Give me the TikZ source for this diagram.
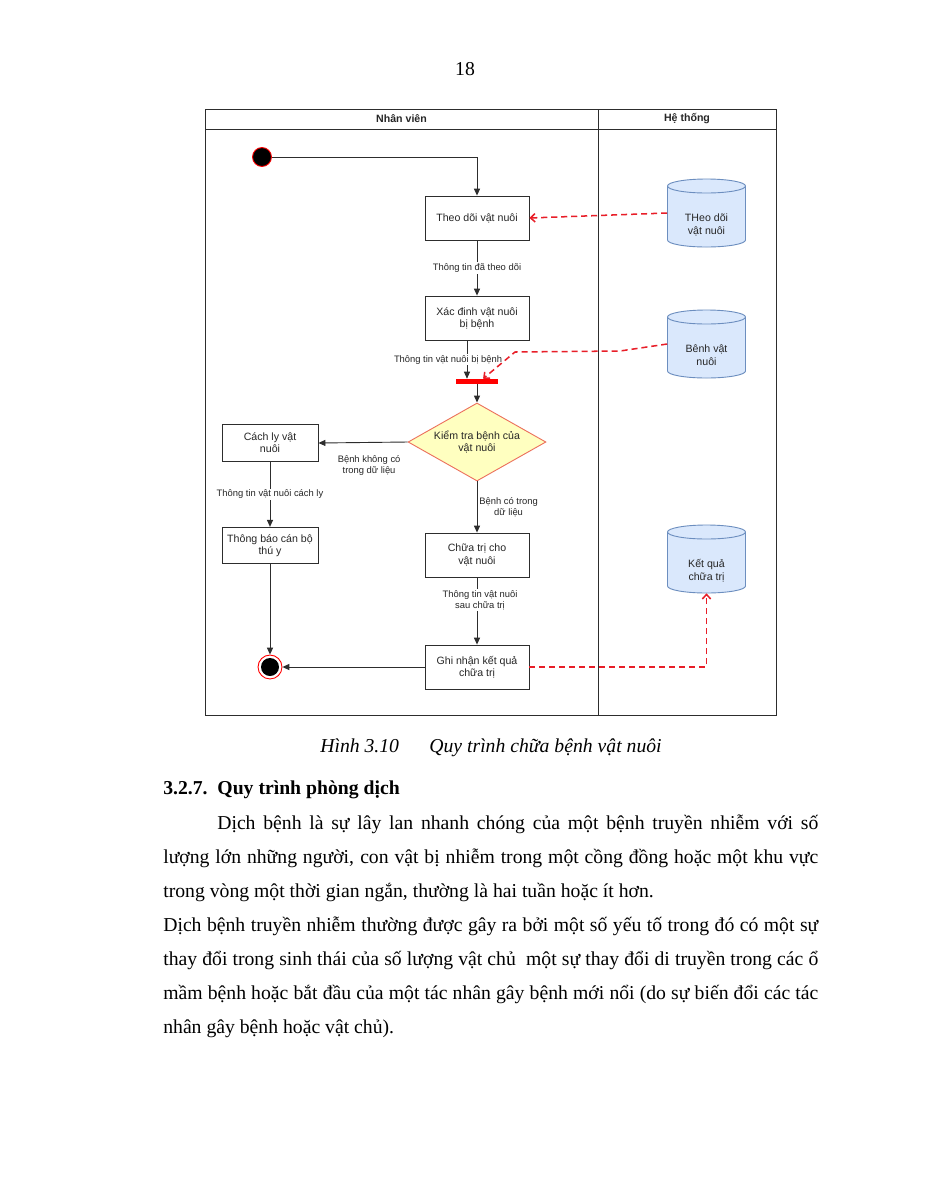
\documentclass[tikz,border=0pt]{standalone}
\usepackage{fontspec}
\setmainfont{Liberation Serif}
\newfontfamily\diagfont{Liberation Sans}
\usetikzlibrary{shapes.geometric,arrows.meta}

\definecolor{dbfill}{RGB}{218,232,252}
\definecolor{dbline}{RGB}{108,142,191}
\definecolor{decfill}{RGB}{255,255,192}
\definecolor{decline}{RGB}{236,112,92}
\definecolor{flowred}{RGB}{232,30,40}
\definecolor{laneline}{RGB}{45,45,45}

\tikzset{
  actbox/.style={draw=laneline,line width=0.6pt,fill=white,minimum width=68.6pt,minimum height=29pt,inner sep=0.75pt,align=center,font=\diagfont\fontsize{7pt}{8pt}\selectfont,text=black!85},
  smallbox/.style={actbox,minimum width=63.4pt,minimum height=24pt},
  dbcyl/.style={minimum width=51.5pt,minimum height=44.9pt,inner sep=0pt},
  dbtext/.style={inner sep=0.75pt,yshift=-7.6pt,align=center,font=\diagfont\fontsize{7pt}{8.5pt}\selectfont,text=black!85},
  lbl/.style={inner sep=0.75pt,fill=white,align=center,font=\diagfont\fontsize{6.2pt}{7.2pt}\selectfont,text=black!85},
  flow/.style={draw=laneline,line width=0.6pt,-{Triangle[length=4.6pt,width=4pt]}},
  dataflow/.style={draw=flowred,line width=1pt,dash pattern=on 4pt off 2.6pt,-{Straight Barb[length=3pt,width=5.5pt]}},
  bodyline/.style={anchor=base west,inner sep=0pt,font=\fontsize{13pt}{15pt}\selectfont}
}

\begin{document}
\begin{tikzpicture}[x=0.66pt,y=0.66pt,yscale=-1,xscale=1]
%set page: 927 x 1200, origin top left
\fill[white] (0,0) rectangle (927,1200);
\path[use as bounding box] (0,0) rectangle (927,1200);

% Text Node
\node [anchor=base,inner sep=0pt,font=\fontsize{13pt}{15pt}\selectfont] (pagenum) at (465,75) {18};

%Swimlanes
\draw [laneline,line width=0.6pt] (205,109) rectangle (776,715);
\draw [laneline,line width=0.6pt] (205,129) -- (776,129);
\draw [laneline,line width=0.6pt] (598,109) -- (598,715);
% Text Node
\node [inner sep=0.75pt,font=\diagfont\bfseries\fontsize{7pt}{8pt}\selectfont,text=black!85] (lane1) at (401.5,119) {Nhân viên};
% Text Node
\node [inner sep=0.75pt,font=\diagfont\bfseries\fontsize{7pt}{8pt}\selectfont,text=black!85] (lane2) at (687,119) {Hệ thống};

%Start and end
\node [circle,draw=red,fill=black,line width=0.6pt,minimum size=12.5pt,inner sep=0pt] (start) at (262,157) {};
\node [circle,draw=red,fill=white,line width=0.6pt,minimum size=15.8pt,inner sep=0pt] (finish) at (270,667) {};
\fill [black] (finish.center) circle [radius=9];

%Activities
\node [actbox] (watch) at (477,218) {Theo dõi vật nuôi};
\node [actbox] (detect) at (477,318) {Xác đinh vật nuôi\\bị bệnh};
\node [fill=red,minimum width=27.7pt,minimum height=3.3pt,inner sep=0pt] (join) at (477,381.5) {};
\node [diamond,aspect=1.77,draw=decline,fill=decfill,line width=0.6pt,minimum width=91pt,minimum height=51.5pt,inner sep=0pt,align=center,font=\diagfont\fontsize{7pt}{8pt}\selectfont,text=black!85] (check) at (477,442) {Kiểm tra bệnh của\\vật nuôi};
\node [smallbox] (isolate) at (270,443) {Cách ly vật\\nuôi};
\node [smallbox] (notify) at (270,545.5) {Thông báo cán bộ\\thú y};
\node [actbox] (treat) at (477,555) {Chữa trị cho\\vật nuôi};
\node [actbox] (record) at (477,667) {Ghi nhận kết quả\\chữa trị};

%Data stores (cylinders)
\foreach \nm/\cy/\txt in {dbwatch/213/{THeo dõi\\vật nuôi},dbsick/344/{Bênh vật\\nuôi},dbresult/559/{Kết quả\\chữa trị}}{
  \filldraw [draw=dbline,fill=dbfill,line width=0.6pt] (667.5,\cy-27) -- (667.5,\cy+27) arc [start angle=180,end angle=0,x radius=39,y radius=7] -- (745.5,\cy-27) arc [start angle=0,end angle=-180,x radius=39,y radius=7] -- cycle;
  \draw [dbline,line width=0.6pt] (667.5,\cy-27) arc [start angle=180,end angle=0,x radius=39,y radius=7];
  \node [dbcyl,label={[dbtext]center:\txt}] (\nm) at (706.5,\cy) {};
}

%Straight Lines
\draw [flow] (start.east) -| (watch.north);
\draw [flow] (watch.south) -- (detect.north) node [midway,lbl] {Thông tin đã theo dõi};
\draw [flow] ([xshift=-6.6pt]detect.south) -- ([xshift=-6.6pt]join.north) node [midway,lbl,xshift=-12.5pt] {Thông tin vật nuôi bị bệnh};
\draw [flow] (join.south) -- (check.north);
\draw [flow] (check.west) -- (isolate.east) node [midway,lbl,fill=none,yshift=-15pt,xshift=4pt] {Bệnh không có\\trong dữ liệu};
\draw [flow] (isolate.south) -- (notify.north) node [midway,lbl] {Thông tin vật nuôi cách ly};
\draw [flow] (notify.south) -- (finish.north);
\draw [flow] (check.south) -- (treat.north) node [midway,lbl,fill=none,anchor=west,xshift=0.5pt] {Bệnh có trong\\dữ liệu};
\draw [flow] (treat.south) -- (record.north) node [midway,lbl,yshift=7.3pt,xshift=2pt] {Thông tin vật nuôi\\sau chữa trị};
\draw [flow] (record.west) -- (finish.east);

%Dashed data lines
\coordinate (sickbend) at (620,351);
\coordinate (sickturn) at (515,352);
\draw [dataflow] (dbwatch.west) -- (watch.east);
\draw [dataflow] (dbsick.west) -- (sickbend) -- (sickturn) -- ([xshift=4pt]join.north);
\draw [dataflow] (record.east) -| (dbresult.south);

% Text Node
\node [anchor=base west,inner sep=0pt,font=\itshape\fontsize{13pt}{15pt}\selectfont] (caption) at (320,752) {Hình 3.10\hspace{20pt}Quy trình chữa bệnh vật nuôi};
% Text Node
\node [anchor=base west,inner sep=0pt,font=\bfseries\fontsize{13pt}{15pt}\selectfont] (heading) at (163,794) {3.2.7.\ \ Quy trình phòng dịch};

% Text Node
\node [bodyline] (line1) at (217,829) {\makebox[396.7pt][s]{Dịch bệnh là sự lây lan nhanh chóng của một bệnh truyền nhiễm với số}};
\node [bodyline] (line2) at (163,863) {\makebox[432.3pt][s]{lượng lớn những người, con vật bị nhiễm trong một cồng đồng hoặc một khu vực}};
\node [bodyline] (line3) at (163,897) {trong vòng một thời gian ngắn, thường là hai tuần hoặc ít hơn.};
\node [bodyline] (line4) at (163,931) {\makebox[432.3pt][s]{Dịch bệnh truyền nhiễm thường được gây ra bởi một số yếu tố trong đó có một sự}};
\node [bodyline] (line5) at (163,965) {\makebox[432.3pt][s]{thay đổi trong sinh thái của số lượng vật chủ\ \ một sự thay đổi di truyền trong các ổ}};
\node [bodyline] (line6) at (163,999) {\makebox[432.3pt][s]{mầm bệnh hoặc bắt đầu của một tác nhân gây bệnh mới nổi (do sự biến đổi các tác}};
\node [bodyline] (line7) at (163,1033) {nhân gây bệnh hoặc vật chủ).};

\end{tikzpicture}
\end{document}
